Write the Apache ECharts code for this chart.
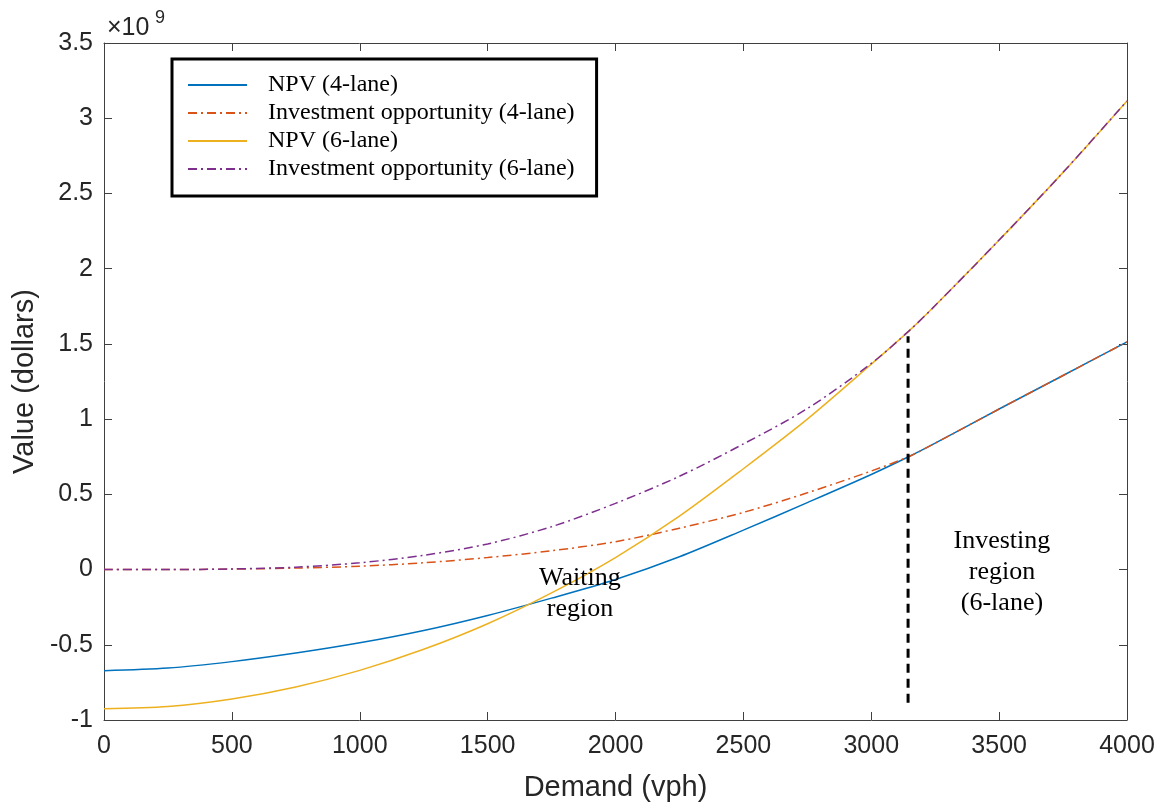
<!DOCTYPE html>
<html>
<head>
<meta charset="utf-8">
<script src="https://cdn.jsdelivr.net/npm/echarts@6/dist/echarts.min.js"></script>
<style>
html,body{margin:0;padding:0;background:#fff;}
#chart{width:1163px;height:810px;}
</style>
</head>
<body>
<div id="chart"></div>
<script>
// Demand (vph)
var demand = [0,250,500,750,1000,1250,1500,1750,2000,2250,2500,2750,3000,3150,3250,3500,3750,4000];
// Values in 10^9 dollars
var npv4 = [-0.672,-0.655,-0.612,-0.555,-0.487,-0.405,-0.305,-0.19,-0.066,0.085,0.262,0.445,0.632,0.753,0.84,1.067,1.29,1.513];
var opp4 = [0,0,0.003,0.01,0.022,0.045,0.08,0.125,0.185,0.275,0.38,0.51,0.655,0.753,0.84,1.067,1.29,1.513];
var npv6 = [-0.925,-0.91,-0.86,-0.78,-0.67,-0.53,-0.36,-0.155,0.08,0.355,0.67,1.0,1.365,1.59,1.755,2.19,2.64,3.115];
var opp6 = [0,0,0.004,0.016,0.045,0.095,0.17,0.285,0.44,0.62,0.835,1.07,1.37,1.59,1.755,2.19,2.64,3.115];
// Threshold (6-lane investment trigger)
var thresholdX = [3144,3144];
var thresholdY = [-0.885,1.55];
var seriesNames = ['NPV (4-lane)','Investment opportunity (4-lane)','NPV (6-lane)','Investment opportunity (6-lane)'];
var xTicks = [0,500,1000,1500,2000,2500,3000,3500,4000];
var yTicks = [-1,-0.5,0,0.5,1,1.5,2,2.5,3,3.5];

function pairs(xs, ys){ return xs.map(function(x,i){ return [x, ys[i]]; }); }

var axisColor = '#404040';
var textColor = '#262626';
var sans = "'Liberation Sans', Arial, Helvetica, sans-serif";
var serif = "'Liberation Serif', 'Times New Roman', serif";
var dashDot = [9,4,2,4];

var chart = echarts.init(document.getElementById('chart'));
var option = {
  animation: false,
  backgroundColor: '#fff',
  grid: {left: 104, right: 36, top: 43, bottom: 90, containLabel: false},
  xAxis: [{
    type: 'value', min: xTicks[0], max: xTicks[xTicks.length-1], interval: 500,
    position: 'bottom',
    name: 'Demand (vph)', nameLocation: 'middle', nameGap: 53,
    nameTextStyle: {fontFamily: sans, fontSize: 29, color: textColor},
    axisLine: {show: true, onZero: false, lineStyle: {color: axisColor, width: 1}},
    axisTick: {show: true, inside: true, length: 8, lineStyle: {color: axisColor}},
    axisLabel: {fontFamily: sans, fontSize: 25, color: textColor, margin: 14,
      formatter: function(v){ return String(v); }},
    splitLine: {show: false}
  },{
    type: 'value', min: xTicks[0], max: xTicks[xTicks.length-1], interval: 500,
    position: 'top',
    axisLine: {show: true, onZero: false, lineStyle: {color: axisColor, width: 1}},
    axisTick: {show: true, inside: true, length: 8, lineStyle: {color: axisColor}},
    axisLabel: {show: false},
    splitLine: {show: false}
  }],
  yAxis: [{
    type: 'value', min: yTicks[0], max: yTicks[yTicks.length-1], interval: 0.5,
    position: 'left',
    name: 'Value (dollars)', nameLocation: 'middle', nameGap: 58,
    nameTextStyle: {fontFamily: sans, fontSize: 29, color: textColor},
    axisLine: {show: true, onZero: false, lineStyle: {color: axisColor, width: 1}},
    axisTick: {show: true, inside: true, length: 8, lineStyle: {color: axisColor}},
    axisLabel: {fontFamily: sans, fontSize: 25, color: textColor, margin: 11,
      formatter: function(v){ return String(v); }},
    splitLine: {show: false}
  },{
    type: 'value', min: yTicks[0], max: yTicks[yTicks.length-1], interval: 0.5,
    position: 'right',
    axisLine: {show: true, onZero: false, lineStyle: {color: axisColor, width: 1}},
    axisTick: {show: true, inside: true, length: 8, lineStyle: {color: axisColor}},
    axisLabel: {show: false},
    splitLine: {show: false}
  }],
  legend: {
    data: seriesNames,
    orient: 'vertical',
    left: 172, top: 59,
    padding: [14, 22, 15, 15],
    itemGap: 4,
    itemWidth: 59, itemHeight: 2,
    itemStyle: {opacity: 0},
    borderColor: '#000', borderWidth: 3,
    backgroundColor: '#fff',
    selectedMode: false,
    textStyle: {fontFamily: serif, fontSize: 24, color: '#000', padding: [0,0,0,16], lineHeight: 24}
  },
  graphic: [
    {type: 'text', left: 107, top: 16, style: {text: '×10', font: '25px ' + sans, fill: textColor}},
    {type: 'text', left: 155, top: 9, style: {text: '9', font: '18px ' + sans, fill: textColor}}
  ],
  series: [
    {name: seriesNames[0], type: 'line', data: pairs(demand, npv4), symbol: 'none', smooth: 0.3,
     lineStyle: {color: '#0072BD', width: 1.5}, itemStyle: {color: '#0072BD'}, z: 2},
    {name: seriesNames[1], type: 'line', data: pairs(demand, opp4), symbol: 'none', smooth: 0.3,
     lineStyle: {color: '#D95319', width: 1.5, type: dashDot}, itemStyle: {color: '#D95319'}, z: 3},
    {name: seriesNames[2], type: 'line', data: pairs(demand, npv6), symbol: 'none', smooth: 0.3,
     lineStyle: {color: '#EDB120', width: 1.5}, itemStyle: {color: '#EDB120'}, z: 4},
    {name: seriesNames[3], type: 'line', data: pairs(demand, opp6), symbol: 'none', smooth: 0.3,
     lineStyle: {color: '#7E2F8E', width: 1.5, type: dashDot}, itemStyle: {color: '#7E2F8E'}, z: 5},
    {name: 'threshold', type: 'line', data: pairs(thresholdX, thresholdY), symbol: 'none',
     lineStyle: {color: '#000', width: 3, type: [9,6]}, z: 6, silent: true},
    {name: 'annotations', type: 'scatter', symbolSize: 0, silent: true, z: 7,
     itemStyle: {opacity: 1},
     data: [
       {value: [1861, -0.16], label: {formatter: 'Waiting\nregion', lineHeight: 31}},
       {value: [3511, -0.02], label: {formatter: 'Investing\nregion\n(6-lane)', lineHeight: 31}}
     ],
     label: {show: true, position: 'inside', fontFamily: serif, fontSize: 26, color: '#000', opacity: 1, align: 'center', verticalAlign: 'middle'}
    }
  ]
};
chart.setOption(option);
</script>
</body>
</html>
